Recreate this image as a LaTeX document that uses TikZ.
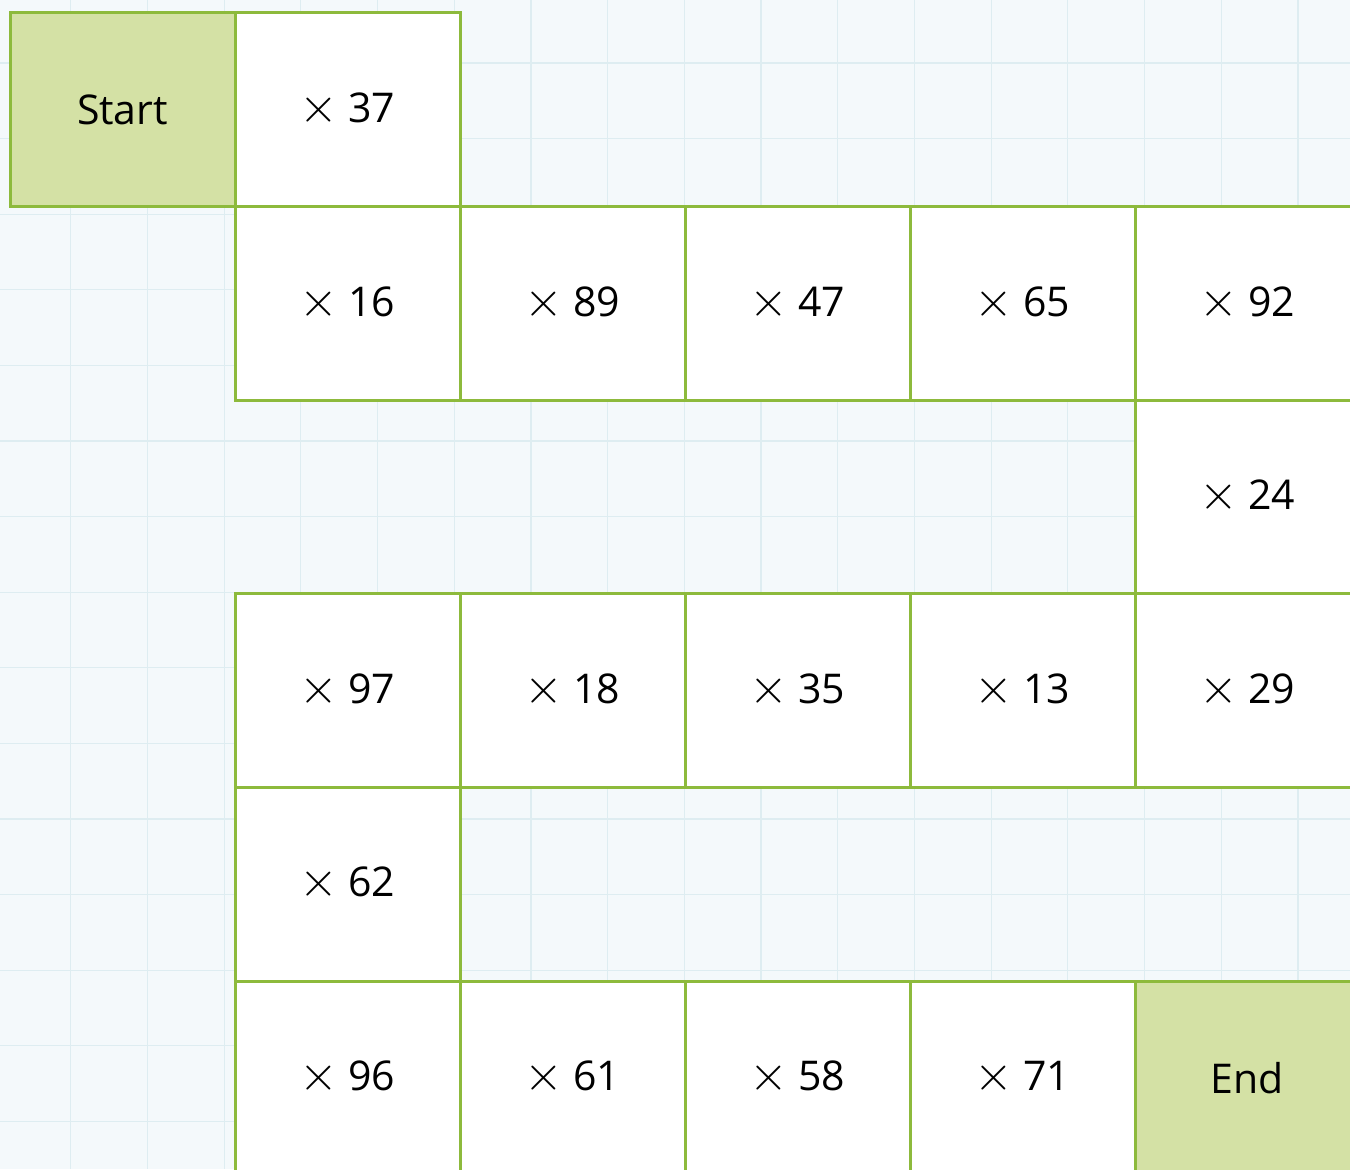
\documentclass[tikz,border=0pt]{standalone}
\usepackage{fontspec}
\setmainfont{Open Sans}
\definecolor{bg}{HTML}{F4F9FB}
\definecolor{gridc}{HTML}{DEEDF1}
\definecolor{edge}{HTML}{8DBA3C}
\definecolor{goalfill}{HTML}{D4E1A5}
\newcommand{\mulsign}{{\fontsize{27}{27}\selectfont$\times$}\hspace{5pt}}
\begin{document}
\begin{tikzpicture}[x=0.5pt,y=-0.5pt,
  cell/.style={draw=edge, line width=1.5pt, fill=white, minimum width=112.5pt,
    minimum height=97pt, inner sep=0pt, font=\fontsize{20.5}{24}\selectfont, text=black},
  goal/.style={cell, fill=goalfill},
  gridline/.style={gridc, line width=0.6pt}]
\useasboundingbox (0,0) rectangle (1350,1169);
\clip (0,0) rectangle (1350,1169);
\fill[bg] (0,0) rectangle (1350,1169);
\foreach \i in {0,...,18} \draw[gridline] ({-6+76.7*\i},0) -- ++(0,1169);
\foreach \j in {0,...,16} \draw[gridline] (0,{-12.6+75.6*\j}) -- ++(1350,0);
% row 0
\node[goal] (start) at (122.5,109.5) {Start};
\node[cell] (m37) at (347.5,109.5) {\mulsign 37};
% row 1
\node[cell] (m16) at (347.5,303.5) {\mulsign 16};
\node[cell] (m89) at (572.5,303.5) {\mulsign 89};
\node[cell] (m47) at (797.5,303.5) {\mulsign 47};
\node[cell] (m65) at (1022.5,303.5) {\mulsign 65};
\node[cell] (m92) at (1247.5,303.5) {\mulsign 92};
% row 2
\node[cell] (m24) at (1247.5,497) {\mulsign 24};
% row 3
\node[cell] (m97) at (347.5,690.5) {\mulsign 97};
\node[cell] (m18) at (572.5,690.5) {\mulsign 18};
\node[cell] (m35) at (797.5,690.5) {\mulsign 35};
\node[cell] (m13) at (1022.5,690.5) {\mulsign 13};
\node[cell] (m29) at (1247.5,690.5) {\mulsign 29};
% row 4
\node[cell] (m62) at (347.5,884) {\mulsign 62};
% row 5
\node[cell] (m96) at (347.5,1078) {\mulsign 96};
\node[cell] (m61) at (572.5,1078) {\mulsign 61};
\node[cell] (m58) at (797.5,1078) {\mulsign 58};
\node[cell] (m71) at (1022.5,1078) {\mulsign 71};
\node[goal] (end) at (1247.5,1078) {End};
\end{tikzpicture}
\end{document}
